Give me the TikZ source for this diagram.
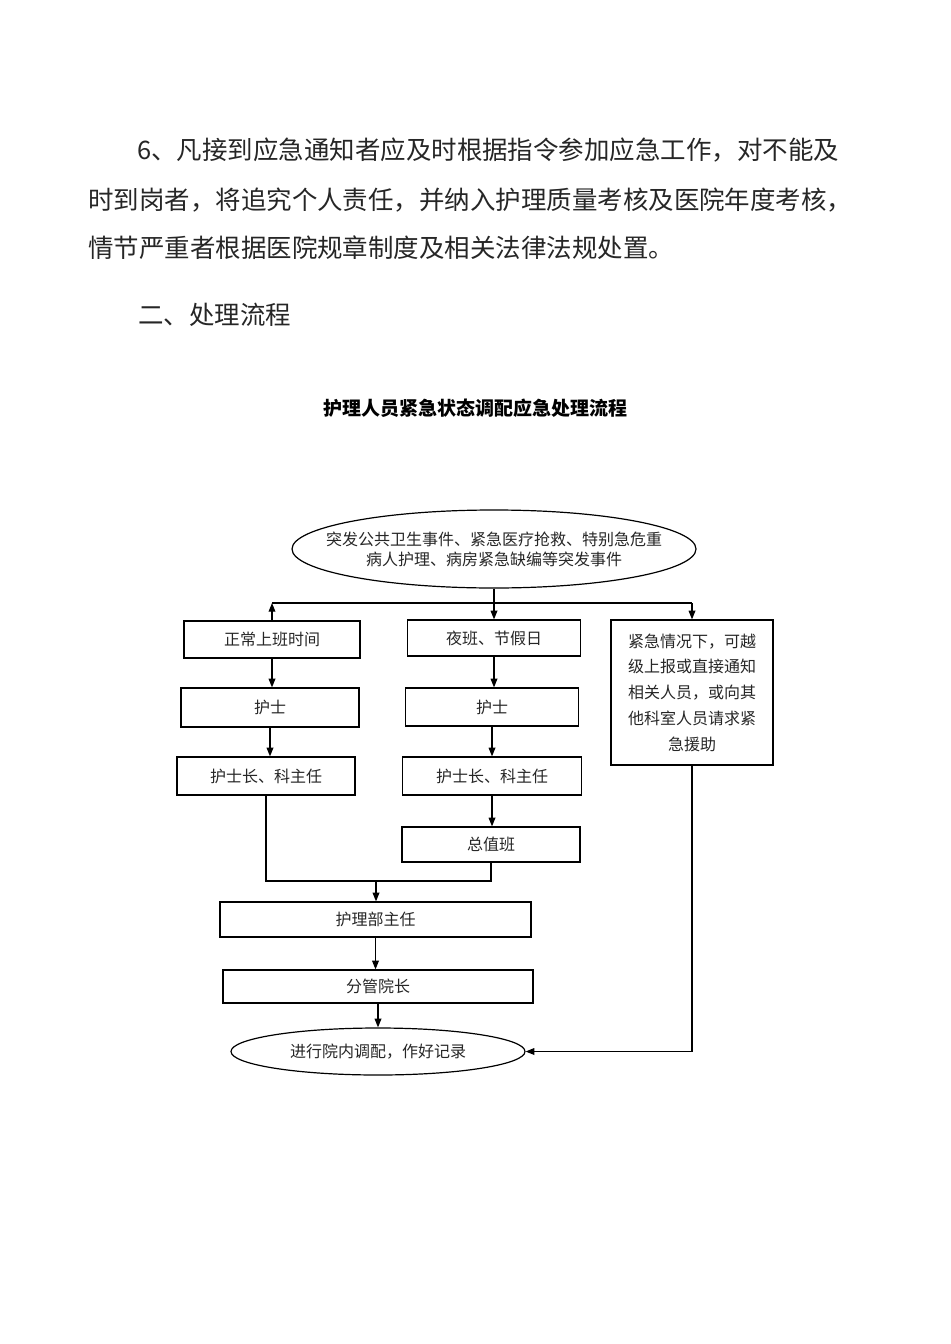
\documentclass[tikz,border=0pt]{standalone}
\usepackage{fontspec}
\setmainfont{Noto Sans CJK SC}
\usetikzlibrary{shapes.geometric,arrows.meta}
\begin{document}
\begin{tikzpicture}[x=0.75pt,y=-0.75pt,
  body/.style={anchor=west,inner sep=0pt,font=\fontsize{19.1}{23}\selectfont,text=black!85},
  box/.style={draw,line width=0.9pt,rectangle,inner sep=0pt,font=\fontsize{12}{14}\selectfont,text=black!85},
  oval/.style={draw,line width=0.9pt,ellipse,inner sep=0pt},
  lbl/.style={inner sep=0pt,align=center,font=\fontsize{12}{15}\selectfont,text=black!85},
  ln/.style={line width=0.9pt},
  arr/.style={line width=0.9pt,-{Triangle[length=6.5pt,width=5pt]}}]
\useasboundingbox (0,0) rectangle (950,1344);
% body text
\node[body] (t1) at (137,150) {6、凡接到应急通知者应及时根据指令参加应急工作，对不能及};
\node[body] (t2) at (88,200) {时到岗者，将追究个人责任，并纳入护理质量考核及医院年度考核，};
\node[body] (t3) at (88,248) {情节严重者根据医院规章制度及相关法律法规处置。};
\node[body] (t4) at (138,315) {二、处理流程};
\node[inner sep=0pt,font=\fontsize{14.25}{16}\selectfont\bfseries] (title) at (475,408) {护理人员紧急状态调配应急处理流程};
% nodes
\node[oval,minimum width=303pt,minimum height=58.5pt] (ev) at (494,549) {};
\node[lbl] (evt) at (ev.center) {突发公共卫生事件、紧急医疗抢救、特别急危重\\病人护理、病房紧急缺编等突发事件};
\node[box,minimum width=132pt,minimum height=27.75pt] (n1) at (272,639.5) {正常上班时间};
\node[box,minimum width=129.75pt,minimum height=27pt] (d1) at (494,638) {夜班、节假日};
\node[box,minimum width=121.5pt,minimum height=108.75pt,align=center,font=\fontsize{12}{19.3}\selectfont] (r) at (692,692.5) {紧急情况下，可越\\级上报或直接通知\\相关人员，或向其\\他科室人员请求紧\\急援助};
\node[box,minimum width=133.5pt,minimum height=29.25pt] (n2) at (270,707.5) {护士};
\node[box,minimum width=129.75pt,minimum height=28.5pt] (d2) at (492,707) {护士};
\node[box,minimum width=133.5pt,minimum height=28.5pt] (n3) at (266,776) {护士长、科主任};
\node[box,minimum width=134.25pt,minimum height=28.5pt] (d3) at (492,776) {护士长、科主任};
\node[box,minimum width=133.5pt,minimum height=26.25pt] (d4) at (491,844.5) {总值班};
\node[box,minimum width=233.25pt,minimum height=26.25pt] (p) at (375.5,919.5) {护理部主任};
\node[box,minimum width=232.5pt,minimum height=24.75pt] (v) at (378,986.5) {分管院长};
\node[oval,minimum width=220.5pt,minimum height=35.25pt] (e2) at (378,1051.5) {};
\node[lbl] (e2t) at (e2.center) {进行院内调配，作好记录};
% connectors
\coordinate (j) at (496,603);
\coordinate (m) at (376,881);
\draw[arr] (ev.south) -- (ev.south |- d1.north);
\draw[ln] (n1.north |- j) -- (r.north |- j);
\draw[arr] (n1.north) -- (n1.north |- j);
\draw[arr] (r.north |- j) -- (r.north);
\draw[arr] (n1.south) -- (n1.south |- n2.north);
\draw[arr] (n2.south) -- (n2.south |- n3.north);
\draw[arr] (d1.south) -- (d1.south |- d2.north);
\draw[arr] (d2.south) -- (d2.south |- d3.north);
\draw[arr] (d3.south) -- (d3.south |- d4.north);
\draw[ln] (n3.south) -- (n3.south |- m) -- (d4.south |- m) -- (d4.south);
\draw[arr] (m) -- (m |- p.north);
\draw[arr] (p.south) -- (p.south |- v.north);
\draw[arr] (v.south) -- (v.south |- e2.north);
\draw[arr] (r.south) -- (r.south |- e2.east) -- (e2.east);
\end{tikzpicture}
\end{document}
